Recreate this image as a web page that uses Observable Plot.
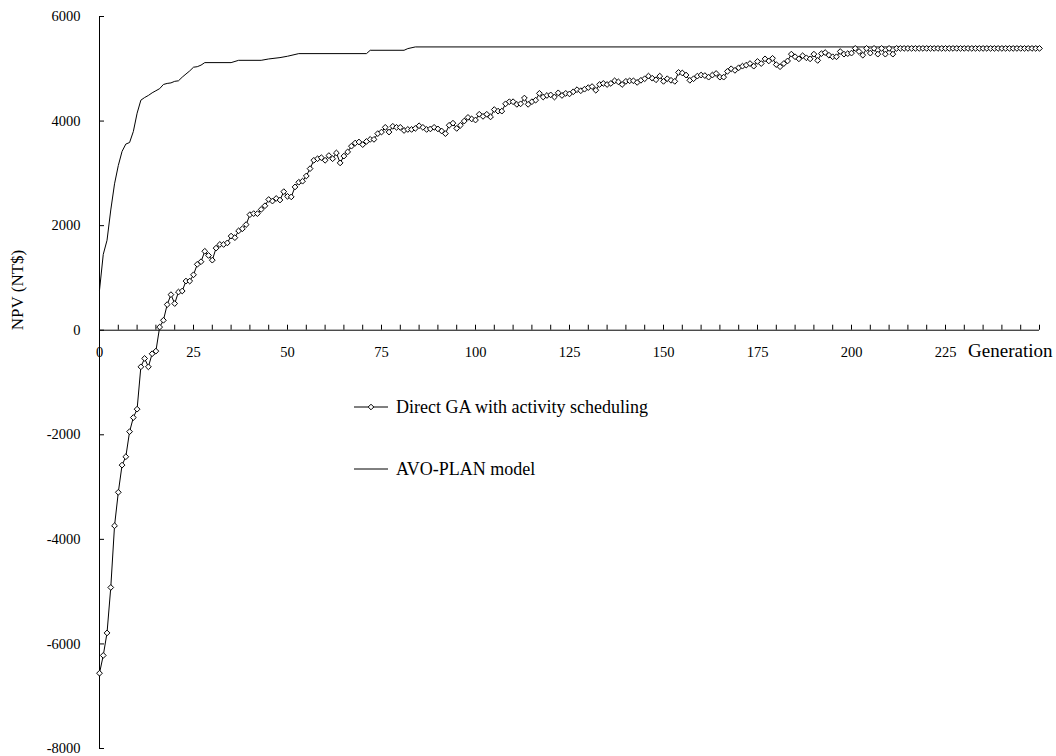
<!DOCTYPE html>
<html><head><meta charset="utf-8">
<script src="https://cdn.jsdelivr.net/npm/d3@7"></script>
<script src="https://cdn.jsdelivr.net/npm/@observablehq/plot@0.6"></script>
<style>
body{margin:0;background:#fff;}
#wrap{position:relative;width:1056px;height:756px;font-family:"Liberation Serif","Times New Roman",serif;}
.leg{position:absolute;left:354px;display:flex;align-items:center;font-size:18px;color:#000;white-space:nowrap;height:20px;}
.leg svg{margin-right:8px;}
</style></head><body><div id="wrap"></div>
<script>
// Direct GA with activity scheduling: NPV for generation 0,1,2,...,250
const gaNPV = [
-6560,-6220,-5790,-4920,-3740,-3100,-2580,-2420,-1940,-1670,
-1510,-700,-540,-700,-450,-400,60,190,490,680,
510,730,750,940,940,1060,1260,1310,1510,1430,
1340,1570,1640,1640,1670,1800,1770,1900,1940,2020,
2210,2230,2230,2310,2380,2500,2470,2520,2490,2650,
2560,2550,2740,2830,2850,2950,3090,3250,3280,3300,
3250,3340,3280,3390,3200,3330,3410,3520,3580,3600,
3550,3610,3650,3650,3760,3790,3880,3790,3900,3880,
3880,3820,3840,3840,3860,3910,3880,3840,3850,3880,
3850,3810,3760,3920,3960,3860,3920,4000,4070,4040,
4020,4130,4090,4130,4080,4220,4190,4190,4330,4370,
4370,4320,4330,4440,4320,4370,4400,4530,4460,4490,
4500,4460,4540,4490,4530,4520,4560,4600,4580,4610,
4640,4660,4590,4700,4720,4700,4720,4770,4750,4700,
4760,4770,4770,4740,4780,4810,4860,4820,4790,4860,
4760,4810,4780,4760,4930,4920,4880,4780,4810,4860,
4880,4870,4840,4880,4910,4840,4840,4950,5000,4970,
5020,5050,5070,5100,5050,5140,5100,5190,5150,5200,
5080,5040,5100,5150,5280,5230,5190,5250,5210,5190,
5280,5160,5290,5310,5260,5230,5230,5330,5280,5290,
5300,5390,5330,5260,5390,5300,5390,5280,5390,5280,
5390,5280,5390,5390,5390,5390,5390,5390,5390,5390,
5390,5390,5390,5390,5390,5390,5390,5390,5390,5390,
5390,5390,5390,5390,5390,5390,5390,5390,5390,5390,
5390,5390,5390,5390,5390,5390,5390,5390,5390,5390,
5390
];
// AVO-PLAN model: vertices of the curve
const avoGeneration = [0,1,2,3,4,5,6,7,8,9,10,11,12,13,14,15,16,17,18,19,20,21,22,23,24,25,26,27,28,35,37,43,45,48,50,53,71,72,81,82,84,250];
const avoNPV = [765,1450,1720,2300,2800,3150,3420,3560,3590,3800,4150,4400,4450,4490,4540,4580,4620,4700,4720,4730,4760,4770,4840,4900,4960,5030,5040,5070,5118,5118,5162,5162,5188,5214,5240,5290,5290,5354,5354,5386,5418,5418];

const seriesNames = ["Direct GA with activity scheduling", "AVO-PLAN model"];
const xDomain = [0, 250];
const yDomain = [-8000, 6000];
const xMinorTicks = d3.range(0, 251, 5);
const xLabelTicks = [0, 25, 50, 75, 100, 125, 150, 175, 200, 225];
const yTicks = [-8000, -6000, -4000, -2000, 0, 2000, 4000, 6000];
const xTitle = "Generation";
const yTitle = "NPV (NT$)";

const gaData = gaNPV.map((v, i) => ({gen: i, npv: v}));
const avoData = avoGeneration.map((g, i) => ({gen: g, npv: avoNPV[i]}));

const W = 1056, H = 756, mT = 16, mB = 8, mL = 99, mR = 17;
const yPix0 = mT + (yDomain[1] - 0) / (yDomain[1] - yDomain[0]) * (H - mT - mB);
const shift = yPix0 - (H - mB);

const chart = Plot.plot({
  width: W, height: H,
  marginTop: mT, marginBottom: mB, marginLeft: mL, marginRight: mR,
  x: {domain: xDomain, label: null},
  y: {domain: yDomain, label: null},
  style: {fontFamily: "'Liberation Serif','Times New Roman',serif", fontSize: "14px", color: "black", background: "white", overflow: "visible"},
  marks: [
    Plot.ruleX([0], {stroke: "black", strokeWidth: 1}),
    Plot.ruleY([0], {stroke: "black", strokeWidth: 1}),
    Plot.axisY({ticks: yTicks, tickSize: -5, tickFormat: () => "", label: null, stroke: "black"}),
    Plot.axisY({ticks: yTicks, tickSize: 0, tickPadding: 19, tickFormat: d => String(d), label: null, fontSize: 14.5, fill: "black"}),
    Plot.axisX({ticks: xMinorTicks, tickSize: -5, tickFormat: () => "", label: null, dy: shift, stroke: "black"}),
    Plot.axisX({ticks: xLabelTicks, tickSize: 0, tickPadding: 16, tickFormat: d => String(d), label: null, dy: shift, fontSize: 14.5, fill: "black"}),
    Plot.text([{t: xTitle, x: xDomain[1]}], {x: "x", y: 0, text: "t", textAnchor: "end", dx: 13, dy: 21, fontSize: 19, fill: "black"}),
    Plot.text([{t: yTitle, y: 0}], {frameAnchor: "left", y: "y", text: "t", rotate: -90, dx: -82, fontSize: 17, fill: "black"}),
    Plot.line(avoData, {x: "gen", y: "npv", stroke: "black", strokeWidth: 1}),
    Plot.line(gaData, {x: "gen", y: "npv", stroke: "black", strokeWidth: 1}),
    Plot.dot(gaData, {x: "gen", y: "npv", symbol: "diamond2", r: 2.6, fill: "white", stroke: "black", strokeWidth: 1})
  ]
});
const wrap = document.getElementById("wrap");
wrap.appendChild(chart);

// legend
const legendTops = [397, 459];
seriesNames.forEach((name, i) => {
  const d = document.createElement("div");
  d.className = "leg";
  d.style.top = legendTops[i] + "px";
  const marker = i === 0
    ? '<path d="M17,2.2L19.8,5L17,7.8L14.2,5Z" fill="white" stroke="black" stroke-width="1"/>'
    : '';
  d.innerHTML = '<svg width="34" height="10"><line x1="0" x2="34" y1="5" y2="5" stroke="black" stroke-width="1"/>' + marker + '</svg><span>' + name + '</span>';
  wrap.appendChild(d);
});
</script>
</body></html>
